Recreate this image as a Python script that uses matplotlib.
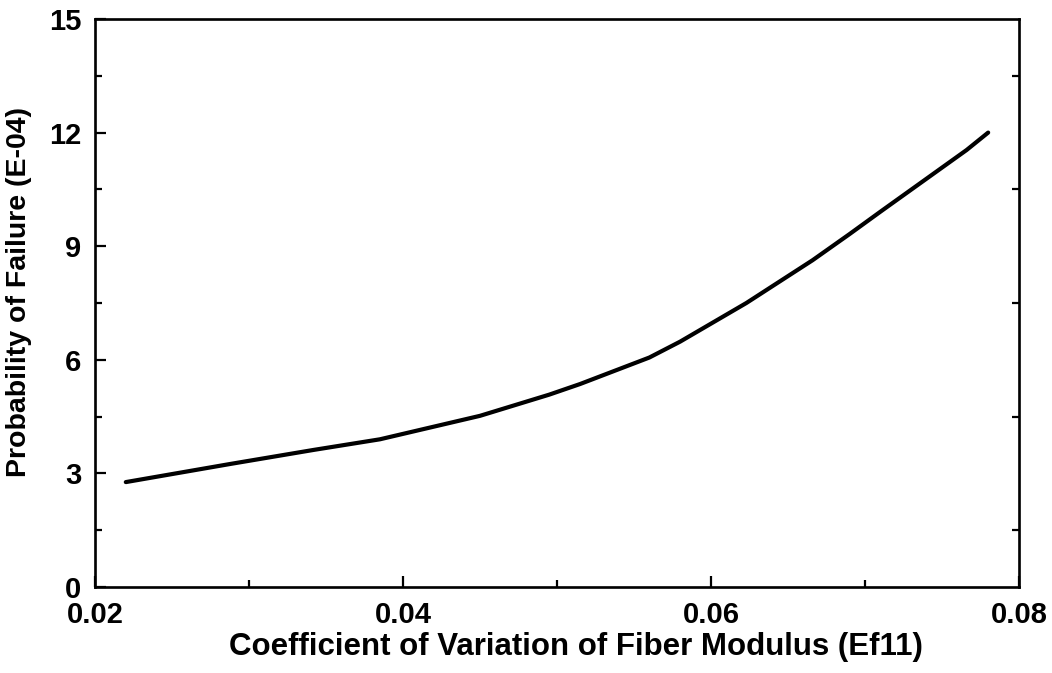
import numpy as np
import matplotlib
matplotlib.use("Agg")
import matplotlib.pyplot as plt

# curve
cov = [0.022, 0.0288, 0.0342, 0.0385, 0.045, 0.0495, 0.0515, 0.056,
       0.058, 0.0623, 0.0666, 0.069, 0.071, 0.0766, 0.078]
pf = [2.77, 3.25, 3.62, 3.90, 4.52, 5.08, 5.36, 6.06,
      6.48, 7.50, 8.63, 9.32, 9.91, 11.54, 12.0]

xticks = [0.02, 0.04, 0.06, 0.08]
xlabels = ["0.02", "0.04", "0.06", "0.08"]
xminor = [0.03, 0.05, 0.07]
yticks = [0, 3, 6, 9, 12, 15]
yminor = [1.5, 4.5, 7.5, 10.5, 13.5]

plt.rcParams['font.family'] = ['Liberation Sans', 'DejaVu Sans']
plt.rcParams['font.weight'] = 'bold'

fig = plt.figure(figsize=(10.52, 6.73), dpi=100)
ax = fig.add_axes([0.0903, 0.1278, 0.8783, 0.844])

ax.plot(cov, pf, 'k-', lw=3.0, solid_capstyle='round', solid_joinstyle='round')

ax.set_xlim(0.02, 0.08)
ax.set_ylim(0, 15)
ax.set_xticks(xticks)
ax.set_xticklabels(xlabels)
ax.set_xticks(xminor, minor=True)
ax.set_yticks(yticks)
ax.set_yticks(yminor, minor=True)

ax.tick_params(axis='both', which='both', direction='in', width=1.6,
               labelsize=21, top=False, right=False)
ax.tick_params(axis='both', which='major', length=8)
ax.tick_params(axis='both', which='minor', length=5)
ax.tick_params(axis='x', which='major', pad=10)
ax.tick_params(axis='y', which='major', pad=10)
for s in ax.spines.values():
    s.set_linewidth(1.9)

# right side only carries the short ticks, no labels
ax2 = ax.twinx()
ax2.set_ylim(0, 15)
ax2.set_yticks(yminor)
ax2.set_yticklabels([])
ax2.tick_params(axis='y', direction='in', length=5, width=1.6)

ax.set_xlabel("Coefficient of Variation of Fiber Modulus (Ef11)",
              fontsize=22.5, fontweight='bold')
ax.xaxis.set_label_coords(0.52, -0.08)
ax.set_ylabel("Probability of Failure (E-04)", fontsize=20.5, fontweight='bold')
ax.yaxis.set_label_coords(-0.068, 0.52)

fig.savefig("out.png", dpi=100)
